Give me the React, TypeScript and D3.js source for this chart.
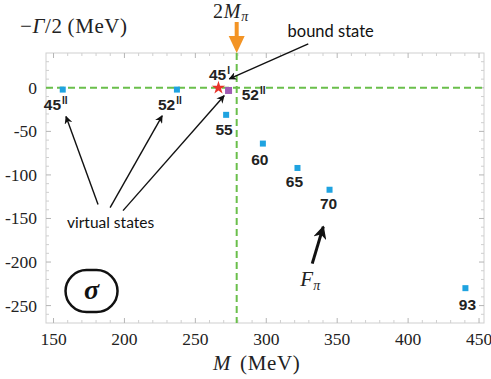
import React from 'react';
import * as d3 from 'd3';

// sigma pole positions vs pion mass: M (MeV), -Gamma/2 (MeV)
const poleMass = [156.5, 237, 271.7, 297.6, 322, 344.6, 440.4];
const poleHalfWidth = [-2, -2, -31, -64, -92, -117, -230];
const poleLabel = ['45', '52', '55', '60', '65', '70', '93'];
const poleSheet = ['II', 'II', '', '', '', '', ''];

// the two special points near threshold
const boundMass = [266.3];
const boundHalfWidth = [0];
const boundLabel = ['45'];
const boundSheet = ['I'];
const purpleMass = [273.4];
const purpleHalfWidth = [-3];
const purpleLabel = ['52'];
const purpleSheet = ['II'];

const threshold = 279.14; // 2 M_pi
const xTicks = [150, 200, 250, 300, 350, 400, 450];
const yTicks = [0, -50, -100, -150, -200, -250];

const W = 491;
const H = 379;
const frame = { left: 46, right: 484, top: 53, bottom: 323 };

const x = d3.scaleLinear().domain([144.7, 453.5]).range([frame.left, frame.right]);
const y = d3.scaleLinear().domain([40, -270]).range([frame.top, frame.bottom]);

// label offsets (px) from each blue point
const poleLabelOffset = [
  [-7, 20], [-7, 20], [-2, 20], [-3, 21], [-3, 19], [-1, 19], [2, 22],
];

const labelFont = { fontFamily: 'Liberation Sans, Arial, sans-serif', fontWeight: 700, fontSize: 15.5, fill: '#222' };
const serif = 'Liberation Serif, Times New Roman, serif';
const noteFont = 'Lato, Open Sans, sans-serif';

function PointLabel({ px, py, num, sup }: { px: number; py: number; num: string; sup: string }) {
  return (
    <text x={px} y={py} textAnchor="middle" style={labelFont as any}>
      {num}
      {sup && (
        <tspan dx={1} dy={-6} fontSize={10}>
          {sup}
        </tspan>
      )}
    </text>
  );
}

export default function App() {
  const minorX = d3.range(150, 451, 10);
  const minorY = d3.range(-260, 31, 10);
  const star = d3.symbol().type(d3.symbolStar).size(55)();

  const arrows = [
    { from: [329.6, 50.5], to: [273.9, 10.3], w: 1.4 },
    { from: [181.4, -134], to: [158.8, -33], w: 1.4 },
    { from: [189.9, -137.6], to: [226.6, -32.1], w: 1.4 },
    { from: [199, -141], to: [270.3, -9], w: 1.4 },
  ];

  return (
    <svg width={W} height={H} style={{ position: 'absolute', left: 0, top: 0, background: '#fff' }}>
      <defs>
        <marker id="head" viewBox="0 0 10 10" refX="9" refY="5" markerWidth="8" markerHeight="8" orient="auto" markerUnits="userSpaceOnUse">
          <path d="M0,0 L10,5 L0,10 L3,5 z" fill="#111" />
        </marker>
        <marker id="headBig" viewBox="0 0 10 10" refX="9" refY="5" markerWidth="4.5" markerHeight="4.5" orient="auto">
          <path d="M0,0 L10,5 L0,10 L3,5 z" fill="#111" />
        </marker>
      </defs>

      {/* frame */}
      <rect x={frame.left} y={frame.top} width={frame.right - frame.left} height={frame.bottom - frame.top} fill="none" stroke="#cfcfcf" strokeWidth={1} />
      {minorX.map((v) => {
        const major = v % 50 === 0;
        const len = major ? 5 : 3;
        return (
          <g key={'mx' + v} stroke={major ? '#b5b5b5' : '#cfcfcf'} strokeWidth={1}>
            <line x1={x(v)} x2={x(v)} y1={frame.bottom} y2={frame.bottom - len} />
            <line x1={x(v)} x2={x(v)} y1={frame.top} y2={frame.top + len} />
          </g>
        );
      })}
      {minorY.map((v) => {
        const major = v % 50 === 0;
        const len = major ? 5 : 3;
        return (
          <g key={'my' + v} stroke={major ? '#b5b5b5' : '#cfcfcf'} strokeWidth={1}>
            <line x1={frame.left} x2={frame.left + len} y1={y(v)} y2={y(v)} />
            <line x1={frame.right} x2={frame.right - len} y1={y(v)} y2={y(v)} />
          </g>
        );
      })}

      {/* tick labels */}
      {xTicks.map((v) => (
        <text key={'xt' + v} x={x(v)} y={frame.bottom + 22} textAnchor="middle" fontFamily={serif} fontSize={17.5} fill="#222">
          {v}
        </text>
      ))}
      {yTicks.map((v) => (
        <text key={'yt' + v} x={frame.left - 9} y={y(v) + 6} textAnchor="end" fontFamily={serif} fontSize={17.5} fill="#222">
          {v}
        </text>
      ))}

      {/* axis titles */}
      <text x={20} y={33} fontFamily={serif} fontSize={21} letterSpacing={0.6} fill="#222">
        −<tspan fontStyle="italic">Γ</tspan>/2<tspan dx={5}>(MeV)</tspan>
      </text>
      <text x={213} y={370} fontFamily={serif} fontSize={21} letterSpacing={0.6} fill="#222">
        <tspan fontStyle="italic">M</tspan>
        <tspan dx={9}>(MeV)</tspan>
      </text>

      {/* threshold guide lines */}
      <line x1={frame.left} x2={frame.right} y1={y(0)} y2={y(0)} stroke="#6abf4b" strokeWidth={2} strokeDasharray="7,4" />
      <line x1={x(threshold)} x2={x(threshold)} y1={frame.top} y2={frame.bottom} stroke="#6abf4b" strokeWidth={2} strokeDasharray="7,4" />

      {/* 2M_pi arrow */}
      <text x={213} y={18} fontFamily={serif} fontSize={20} letterSpacing={0.8} fill="#222">
        2<tspan fontStyle="italic">M</tspan>
        <tspan fontStyle="italic" fontSize={14} dy={3}>π</tspan>
      </text>
      <line x1={x(threshold)} x2={x(threshold)} y1={22} y2={38} stroke="#f39425" strokeWidth={4} />
      <path d={`M${x(threshold) - 8},36 L${x(threshold) + 8},36 L${x(threshold)},${frame.top} Z`} fill="#f39425" />

      {/* blue poles */}
      {poleMass.map((m, i) => (
        <rect key={'p' + i} x={x(m) - 3} y={y(poleHalfWidth[i]) - 3} width={6} height={6} fill="#1fa3e0" />
      ))}
      {poleMass.map((m, i) => (
        <PointLabel key={'pl' + i} px={x(m) + poleLabelOffset[i][0]} py={y(poleHalfWidth[i]) + poleLabelOffset[i][1]} num={poleLabel[i]} sup={poleSheet[i]} />
      ))}

      {/* purple pole */}
      {purpleMass.map((m, i) => (
        <g key={'pu' + i}>
          <rect x={x(m) - 3.5} y={y(purpleHalfWidth[i]) - 3.5} width={7} height={7} fill="#a05ab4" />
          <PointLabel px={x(m) + 25} py={y(purpleHalfWidth[i]) + 10} num={purpleLabel[i]} sup={purpleSheet[i]} />
        </g>
      ))}

      {/* bound state star */}
      {boundMass.map((m, i) => (
        <g key={'b' + i}>
          <path d={star as string} transform={`translate(${x(m)},${y(boundHalfWidth[i])})`} fill="#e8332a" />
          <PointLabel px={x(m) + 1} py={y(boundHalfWidth[i]) - 8} num={boundLabel[i]} sup={boundSheet[i]} />
        </g>
      ))}

      {/* annotation arrows */}
      {arrows.map((a, i) => (
        <line key={'a' + i} x1={x(a.from[0])} y1={y(a.from[1])} x2={x(a.to[0])} y2={y(a.to[1])} stroke="#111" strokeWidth={a.w} markerEnd="url(#head)" />
      ))}
      <text x={x(315)} y={y(58.5)} fontFamily={noteFont} fontSize={16.5} fill="#111">bound state</text>
      <text x={x(159.5)} y={y(-160.5)} fontFamily={noteFont} fontSize={15.5} fill="#111">virtual states</text>

      {/* F_pi arrow */}
      <line x1={x(332.4)} y1={y(-201.8)} x2={x(340.2)} y2={y(-159.4)} stroke="#111" strokeWidth={3} markerEnd="url(#headBig)" />
      <text x={x(324)} y={y(-228)} fontFamily={serif} fontSize={21} fontStyle="italic" fill="#222">
        F<tspan fontSize={14} dy={4}>π</tspan>
      </text>

      {/* sigma badge */}
      <rect x={x(176.8) - 26} y={y(-233.4) - 21} width={52} height={42} rx={21} ry={21} fill="none" stroke="#111" strokeWidth={2.5} />
      <text x={x(176.8)} y={y(-233.4) + 8} textAnchor="middle" fontFamily={serif} fontSize={28} fontStyle="italic" fontWeight={700} fill="#111">
        σ
      </text>
    </svg>
  );
}
